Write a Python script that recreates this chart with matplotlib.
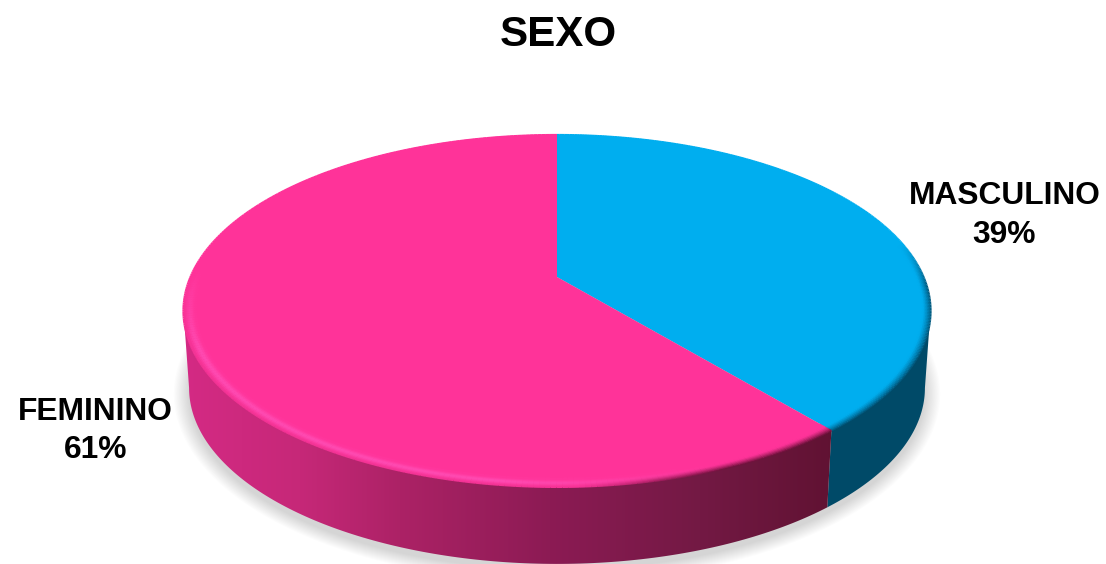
import numpy as np
import matplotlib
matplotlib.use("Agg")
import matplotlib.pyplot as plt
from matplotlib.collections import LineCollection
from matplotlib.colors import to_rgb
from matplotlib.patches import Polygon

titulo = "SEXO"
categorias = ["MASCULINO", "FEMININO"]
valores = [39, 61]

cores_topo = ["#00AEEF", "#FF3399"]
cor_lateral_azul = "#004A68"

# Geometrie du disque en perspective (pixels de la figure)
cx = 557
y_centre = 277
a_haut = 366.5
a_bas = 361
b = 169.4
k = 0.193
y_centre_bas = 354

plt.rcParams["font.family"] = ["Liberation Sans", "DejaVu Sans"]


def projeter(phi, r=1.0, a=a_haut, y0=y_centre):
    """Projette un angle (depuis le haut, sens horaire) sur l'ellipse."""
    u = r * np.sin(phi)
    v = r * np.cos(phi)
    w = 1 + k * v
    return cx + a * u / w, y0 - b * v / w


def melange(c1, c2, t):
    return tuple((1 - t) * np.array(to_rgb(c1)) + t * np.array(to_rgb(c2)))


fig = plt.figure(figsize=(11.06, 5.64), dpi=100)
ax = fig.add_axes([0, 0, 1, 1])

# Ombre douce sous le disque
phi_tout = np.linspace(0, 2 * np.pi, 361)
for marge in np.linspace(15, 0, 14):
    xs, ys = projeter(phi_tout, a=a_bas, y0=y_centre_bas)
    xs = cx + (xs - cx) * (1 + marge / a_bas)
    ys = y_centre_bas + 34 + 6 + (ys - y_centre_bas - 34) * (1 + marge / 210)
    ax.fill(xs, ys, color="black", alpha=0.012, lw=0, zorder=1)

# Angles des parts, a partir du haut
fractions = np.array(valores) / sum(valores)
bornes = np.concatenate([[0], np.cumsum(fractions)]) * 2 * np.pi
phi_gauche = 2 * np.pi - np.arccos(-k)
phi_droite = np.arccos(-k)

# Faces laterales
phi_l = np.linspace(phi_droite, bornes[1], 60)
xh, yh = projeter(phi_l)
xb, yb = projeter(phi_l[::-1], a=a_bas, y0=y_centre_bas)
ax.add_patch(Polygon(np.column_stack([np.r_[xh, xb], np.r_[yh, yb]]),
                     color=cor_lateral_azul, lw=0, zorder=2))

phi_l = np.linspace(bornes[1], phi_gauche, 150)
xh, yh = projeter(phi_l)
xb, yb = projeter(phi_l[::-1], a=a_bas, y0=y_centre_bas)
contour = Polygon(np.column_stack([np.r_[xh, xb], np.r_[yh, yb]]),
                  color="none", lw=0, zorder=2)
ax.add_patch(contour)

# Degrade horizontal de la face rose
pos_degrade = [184, 300, 400, 550, 700, 835]
rouge = [212, 198, 172, 140, 115, 96]
vert = [42, 40, 34, 27, 25, 18]
bleu = [132, 120, 102, 84, 68, 50]
x_img = np.arange(184, 836)
img = np.stack([np.interp(x_img, pos_degrade, rouge),
                np.interp(x_img, pos_degrade, vert),
                np.interp(x_img, pos_degrade, bleu)], axis=-1)[None, :, :] / 255
im = ax.imshow(img, extent=[184, 836, 564, 280], aspect="auto", zorder=2,
               interpolation="bilinear")
im.set_clip_path(contour)

# Faces superieures et biseau
for i in range(len(valores)):
    phi = np.linspace(bornes[i], bornes[i + 1], 300)
    xs, ys = projeter(phi)
    pts = np.column_stack([np.r_[cx, xs], np.r_[y_centre, ys]])
    ax.add_patch(Polygon(pts, color=cores_topo[i], lw=0, zorder=3))

    for t in np.linspace(0, 1, 9):
        r = 1 - 0.032 * t
        xr, yr = projeter(phi, r=r)
        points = np.column_stack([xr, yr]).reshape(-1, 1, 2)
        segments = np.concatenate([points[:-1], points[1:]], axis=1)
        phi_m = 0.5 * (phi[:-1] + phi[1:])
        devant = np.clip(-np.cos(phi_m) * 2.2 + 0.1, 0, 1)
        droite = np.clip(np.sin(phi_m) * 2.0 + 0.55, 0, 1) * devant
        gauche = np.clip(-np.sin(phi_m) * 2.0 + 0.75, 0, 1) * devant
        if i == 0:
            droite = np.clip(np.sin(phi_m) * 3, 0, 1) * np.clip(-np.cos(phi_m) * 4 + 0.8, 0, 1)
            gauche = 0 * gauche
            sombre = "#005A80"
        else:
            sombre = "#74123F"
        prof_sombre = np.clip(1 - t * 1.5, 0, 1) ** 1.3
        prof_clair = np.exp(-((t - 0.55) / 0.3) ** 2)
        couleurs = []
        for d, g in zip(droite, gauche):
            # le bord gauche reste clair, seul le bord droit s'assombrit
            c = melange(cores_topo[i], sombre, max(d - g, 0) * prof_sombre)
            c = melange(c, "#C82A80", 0.25 * g * prof_sombre)
            if i == 1:
                c = melange(c, "#FF50B8", 0.8 * g * prof_clair)
            couleurs.append(c)
        ax.add_collection(LineCollection(segments, colors=couleurs, linewidths=1.6,
                                         capstyle="butt", zorder=4))

# Titre et etiquettes
ax.text(558.5, 35, titulo, ha="center", va="center", fontsize=30.3,
        fontweight="bold", color="black", zorder=5)
pos_etiquettes = [(1004.5, 215.5), (95.5, 431)]
for nom, val, (xt, yt) in zip(categorias, valores, pos_etiquettes):
    ax.text(xt, yt, f"{nom}\n{val}%", ha="center", va="center", fontsize=22.9,
            fontweight="bold", color="black", linespacing=1.35, zorder=5)

ax.set_xlim(0, 1106)
ax.set_ylim(564, 0)
ax.axis("off")

fig.savefig("out.png", dpi=100, facecolor="white")
